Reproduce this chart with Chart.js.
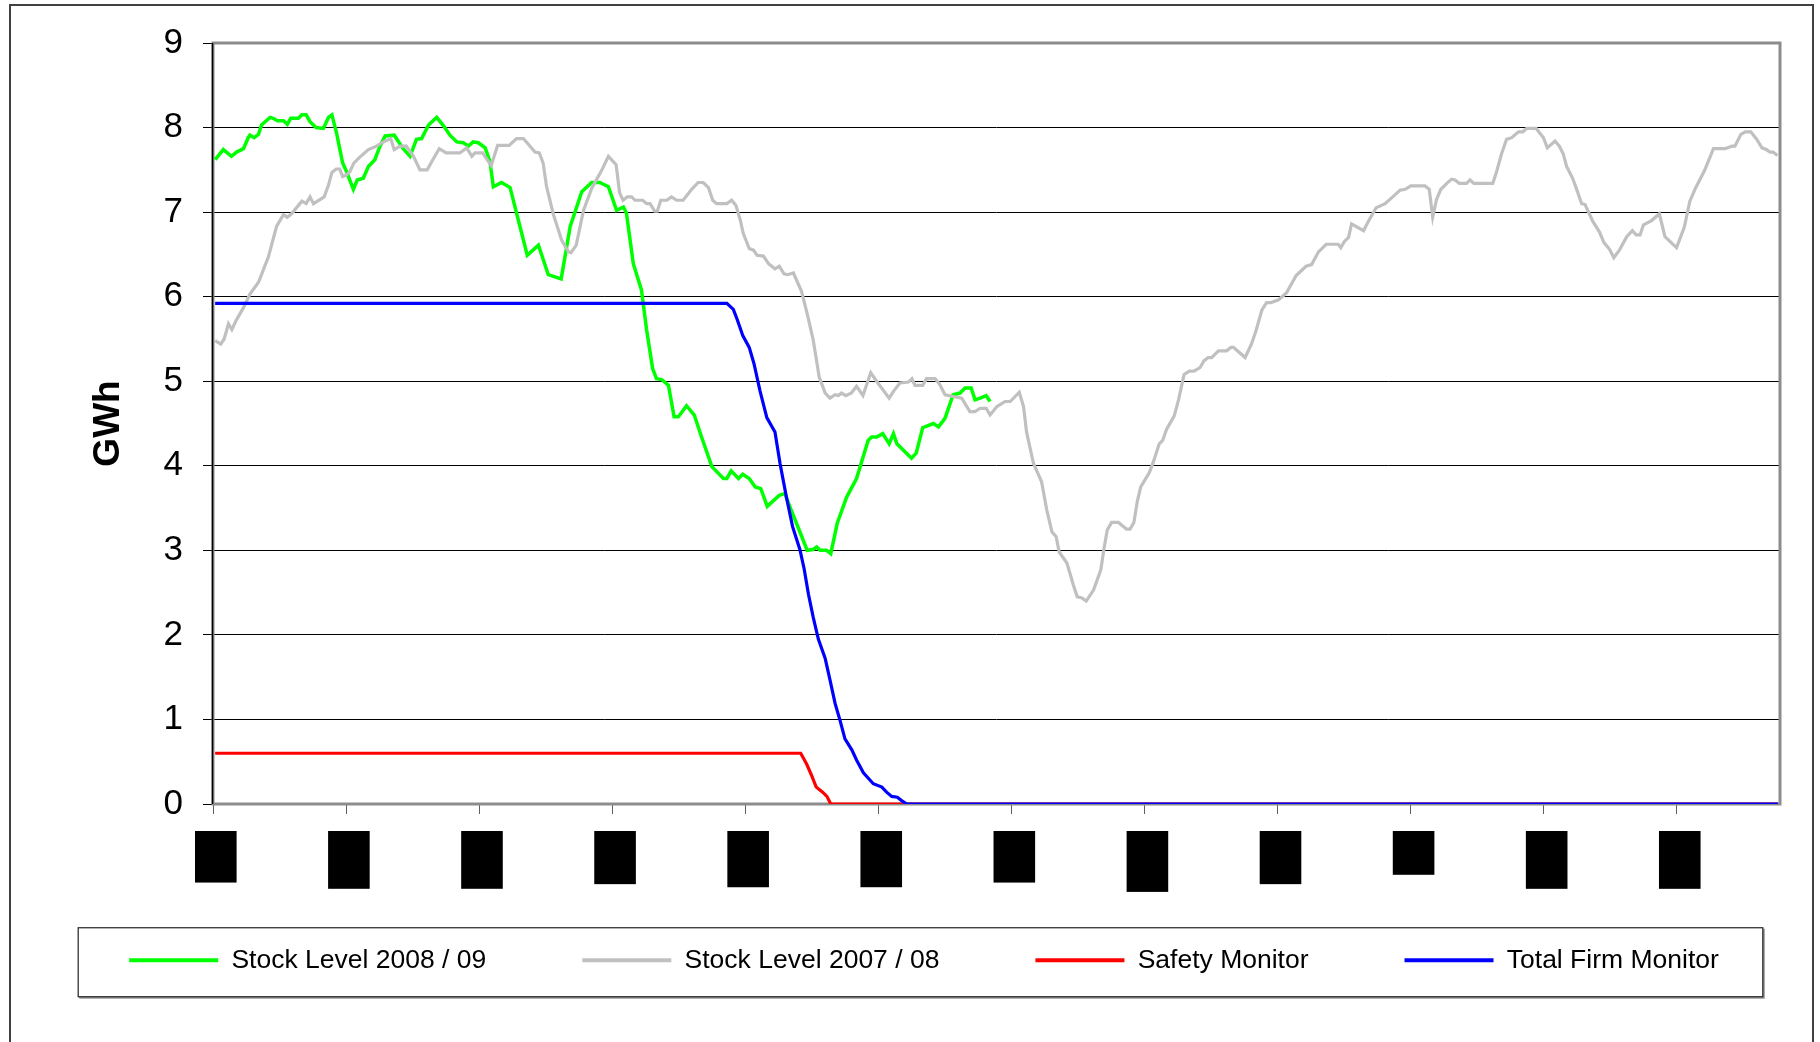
<!DOCTYPE html>
<html>
<head>
<meta charset="utf-8">
<title>Stock Level</title>
<script src="https://cdn.jsdelivr.net/npm/chart.js@4.4.1/dist/chart.umd.min.js"></script>
<style>
  html, body { margin: 0; padding: 0; background: #fff; }
  #wrap { width: 1820px; height: 1042px; }
</style>
</head>
<body>
<div id="wrap"><canvas id="stockChart" width="1820" height="1042"></canvas></div>
<script>
// x axis: day of the gas year, one tick every 31 days
const tickDays = [0, 31, 62, 93, 124, 155, 186, 217, 248, 279, 310, 341];
const monthLabels = ['Oct', 'Nov', 'Dec', 'Jan', 'Feb', 'Mar', 'Apr', 'May', 'Jun', 'Jul', 'Aug', 'Sep'];

// Stock Level 2008 / 09 (GWh)
const stock0809Days = [0.5, 2.4, 4.3, 5.5, 7.1, 8.2, 8.6, 9.6, 10.6, 11.3, 13.3, 14.0, 15.0, 16.4, 17.3, 18.1, 19.9, 20.7, 21.7, 22.6,
  24.0, 25.7, 26.9, 27.7, 28.8, 29.6, 30.2, 31.1, 32.7, 33.6, 35.0, 36.2, 37.7, 38.9, 40.1, 42.2, 44.3, 45.9, 47.4, 48.6,
  50.2, 52.1, 53.7, 55.2, 56.8, 58.3, 59.5, 60.6, 61.8, 63.4, 64.5, 65.3, 67.2, 69.2, 70.3, 71.5, 73.2, 75.8, 78.1, 79.3,
  81.1, 83.2, 85.9, 88.2, 90.1, 92.1, 94.0, 95.6, 96.3, 97.9, 99.8, 101.0, 102.4, 103.3, 104.5, 106.1, 107.4, 108.4, 110.3, 112.1,
  113.8, 116.2, 118.9, 119.7, 120.7, 122.4, 123.4, 124.9, 126.3, 127.6, 129.1, 131.9, 133.2, 134.8, 136.7, 138.4, 139.8, 140.6, 141.4, 142.9,
  143.9, 145.4, 147.6, 149.9, 152.6, 153.4, 154.6, 156.0, 157.5, 158.5, 159.3, 162.7, 163.8, 165.3, 167.8, 169.0, 170.5, 172.4, 174.0, 175.2,
  176.6, 177.5, 178.7, 180.1, 181.0];
const stock0809Values = [7.62, 7.74, 7.66, 7.71, 7.75, 7.88, 7.91, 7.88, 7.92, 8.03, 8.12, 8.11, 8.08, 8.08, 8.04, 8.11, 8.11, 8.15, 8.15, 8.07,
  8.00, 7.99, 8.12, 8.15, 7.93, 7.73, 7.58, 7.48, 7.27, 7.38, 7.40, 7.54, 7.62, 7.78, 7.90, 7.91, 7.75, 7.66, 7.86, 7.87,
  8.03, 8.12, 8.02, 7.91, 7.83, 7.82, 7.78, 7.83, 7.82, 7.76, 7.60, 7.30, 7.35, 7.29, 7.07, 6.83, 6.49, 6.61, 6.26, 6.24,
  6.21, 6.83, 7.24, 7.35, 7.35, 7.30, 7.02, 7.06, 6.99, 6.39, 6.08, 5.61, 5.15, 5.03, 5.02, 4.95, 4.58, 4.58, 4.71, 4.60,
  4.34, 3.99, 3.85, 3.85, 3.94, 3.85, 3.90, 3.85, 3.75, 3.73, 3.52, 3.65, 3.67, 3.46, 3.22, 3.00, 3.01, 3.04, 3.00, 3.00,
  2.96, 3.32, 3.63, 3.85, 4.30, 4.34, 4.34, 4.38, 4.26, 4.38, 4.26, 4.09, 4.15, 4.45, 4.50, 4.46, 4.56, 4.84, 4.86, 4.92,
  4.92, 4.78, 4.80, 4.83, 4.76];

// Stock Level 2007 / 08 (GWh)
const stock0708Days = [0.5, 1.8, 2.6, 3.6, 4.4, 5.4, 7.1, 8.6, 10.6, 12.9, 14.8, 16.4, 17.3, 18.3, 20.7, 21.7, 22.6, 23.4, 25.9, 26.9,
  27.7, 28.7, 29.5, 30.2, 31.1, 31.9, 32.8, 34.2, 36.2, 38.1, 39.3, 41.4, 42.2, 43.6, 45.0, 46.7, 48.2, 49.9, 51.2, 52.7,
  54.3, 57.5, 59.1, 60.3, 61.0, 62.8, 64.8, 66.3, 69.0, 70.7, 72.3, 75.0, 76.0, 76.9, 77.7, 79.3, 81.2, 82.8, 83.4, 84.6,
  86.3, 88.2, 90.6, 92.1, 93.9, 94.7, 95.5, 96.5, 97.5, 98.3, 100.1, 101.0, 101.8, 102.9, 103.5, 104.3, 105.7, 106.8, 108.0, 109.5,
  111.5, 113.0, 114.2, 115.4, 116.4, 117.3, 119.7, 120.8, 121.8, 122.8, 123.5, 124.9, 125.9, 126.7, 128.2, 129.4, 130.9, 131.9, 133.0, 133.8,
  135.2, 137.1, 138.4, 139.8, 141.2, 142.6, 143.7, 144.9, 145.7, 146.4, 147.4, 148.7, 149.9, 151.4, 153.2, 155.0, 157.5, 158.5, 160.0, 162.0,
  162.8, 163.5, 165.3, 166.2, 168.2, 169.3, 170.5, 172.4, 174.4, 176.3, 177.5, 178.7, 180.1, 181.0, 182.6, 184.5, 185.7, 187.8, 188.8, 189.5,
  191.1, 193.0, 194.2, 195.4, 196.4, 197.1, 198.9, 200.4, 201.3, 202.3, 203.4, 205.1, 206.8, 207.5, 208.3, 209.3, 210.9, 212.8, 213.6, 214.5,
  215.3, 216.1, 218.1, 219.0, 220.4, 221.2, 222.1, 223.9, 224.9, 226.2, 227.4, 228.5, 229.9, 230.8, 231.8, 232.6, 234.2, 236.1, 237.1, 237.7,
  240.4, 241.9, 242.9, 244.3, 245.4, 246.4, 248.1, 249.3, 250.1, 252.3, 254.6, 255.9, 257.5, 259.3, 261.4, 262.1, 262.7, 263.5, 264.5, 265.2,
  268.0, 269.1, 270.9, 273.0, 274.8, 276.5, 277.7, 279.0, 282.3, 283.3, 284.1, 285.0, 286.0, 287.4, 288.5, 289.3, 290.3, 292.0, 292.8, 293.7,
  298.1, 299.0, 300.2, 301.3, 302.5, 304.1, 305.1, 306.0, 308.2, 309.9, 310.8, 312.6, 313.6, 314.5, 315.3, 316.7, 317.7, 318.8, 319.6, 321.4,
  322.9, 324.0, 325.3, 326.3, 327.7, 329.3, 330.6, 331.5, 332.4, 333.2, 335.1, 336.9, 338.2, 340.9, 342.7, 344.0, 345.2, 347.5, 349.5, 352.2,
  353.8, 354.5, 355.9, 356.9, 358.2, 359.6, 360.8, 361.8, 362.7, 363.4, 364.4];
const stock0708Values = [5.48, 5.44, 5.50, 5.68, 5.61, 5.72, 5.87, 6.03, 6.17, 6.47, 6.83, 6.97, 6.94, 6.98, 7.13, 7.10, 7.18, 7.10, 7.18, 7.32,
  7.47, 7.51, 7.51, 7.42, 7.44, 7.48, 7.58, 7.65, 7.74, 7.78, 7.82, 7.87, 7.74, 7.78, 7.78, 7.66, 7.50, 7.50, 7.62, 7.75,
  7.70, 7.70, 7.76, 7.66, 7.70, 7.70, 7.55, 7.79, 7.79, 7.87, 7.87, 7.71, 7.70, 7.58, 7.30, 6.97, 6.67, 6.53, 6.52, 6.61,
  7.02, 7.28, 7.50, 7.66, 7.56, 7.23, 7.14, 7.18, 7.18, 7.14, 7.14, 7.10, 7.10, 7.01, 7.01, 7.14, 7.14, 7.18, 7.14, 7.14,
  7.27, 7.35, 7.35, 7.29, 7.14, 7.10, 7.10, 7.14, 7.08, 6.91, 6.75, 6.57, 6.55, 6.49, 6.48, 6.39, 6.33, 6.36, 6.27, 6.26,
  6.28, 6.06, 5.80, 5.49, 5.05, 4.86, 4.80, 4.84, 4.83, 4.86, 4.83, 4.86, 4.94, 4.83, 5.10, 4.97, 4.80, 4.88, 4.98, 4.99,
  5.03, 4.95, 4.95, 5.03, 5.03, 4.96, 4.84, 4.82, 4.80, 4.64, 4.64, 4.68, 4.68, 4.60, 4.70, 4.76, 4.76, 4.87, 4.70, 4.40,
  4.03, 3.81, 3.48, 3.22, 3.16, 2.98, 2.85, 2.59, 2.45, 2.44, 2.40, 2.53, 2.77, 3.01, 3.24, 3.33, 3.33, 3.25, 3.25, 3.33,
  3.58, 3.75, 3.92, 4.04, 4.26, 4.30, 4.43, 4.59, 4.78, 5.08, 5.12, 5.12, 5.16, 5.24, 5.28, 5.28, 5.36, 5.36, 5.40, 5.40,
  5.28, 5.44, 5.59, 5.84, 5.93, 5.93, 5.96, 6.01, 6.05, 6.25, 6.36, 6.38, 6.53, 6.62, 6.62, 6.62, 6.58, 6.65, 6.70, 6.86,
  6.78, 6.89, 7.05, 7.10, 7.18, 7.26, 7.27, 7.31, 7.31, 7.27, 6.94, 7.15, 7.27, 7.34, 7.39, 7.38, 7.34, 7.34, 7.38, 7.34,
  7.34, 7.48, 7.70, 7.86, 7.88, 7.95, 7.95, 7.99, 7.99, 7.88, 7.76, 7.84, 7.78, 7.69, 7.54, 7.40, 7.26, 7.10, 7.09, 6.89,
  6.77, 6.64, 6.56, 6.46, 6.56, 6.71, 6.78, 6.73, 6.73, 6.85, 6.90, 6.98, 6.71, 6.58, 6.82, 7.13, 7.27, 7.50, 7.75, 7.75,
  7.78, 7.78, 7.92, 7.95, 7.95, 7.86, 7.76, 7.74, 7.71, 7.71, 7.67];

// Safety Monitor (GWh)
const safetyDays = [0.5, 136.9, 138.3, 139.5, 140.5, 142.0, 143.0, 143.9, 364.5];
const safetyValues = [0.60, 0.60, 0.47, 0.33, 0.20, 0.14, 0.09, 0.00, 0.00];

// Total Firm Monitor (GWh)
const firmDays = [0.5, 119.7, 121.2, 122.1, 123.4, 124.9, 126.0, 127.4, 129.0, 130.9, 132.1, 133.6, 135.0, 136.7, 137.7, 138.7, 139.8,
  141.0, 142.6, 143.7, 144.9, 146.1, 147.2, 148.8, 149.9, 151.5, 153.8, 155.8, 156.9, 158.1, 159.4, 160.4, 161.6, 364.5];
const firmValues = [5.92, 5.92, 5.85, 5.73, 5.54, 5.40, 5.21, 4.89, 4.57, 4.40, 4.02, 3.62, 3.28, 3.01, 2.78, 2.48, 2.21,
  1.95, 1.72, 1.47, 1.19, 0.98, 0.77, 0.64, 0.52, 0.37, 0.24, 0.20, 0.14, 0.09, 0.08, 0.04, 0.00, 0.00];

const FONT = '"Liberation Sans", Arial, sans-serif';
const toPoints = (days, vals) => days.map((d, i) => ({ x: d, y: vals[i] }));

// outer chart border, plot frame and the boxed legend
const frames = {
  id: 'frames',
  afterLayout(chart) {
    // month labels hang below the thin x box; let them draw past it (labels are clipped to the scale box)
    const xs = chart.scales.x;
    xs.bottom = xs.top + 110;
  },
  beforeDraw(chart) {
    const ctx = chart.ctx;
    ctx.save();
    ctx.fillStyle = '#fff';
    ctx.fillRect(0, 0, chart.width, chart.height);
    ctx.strokeStyle = '#404040';
    ctx.lineWidth = 2;
    ctx.beginPath();
    ctx.moveTo(10, chart.height + 5);
    ctx.lineTo(10, 5);
    ctx.lineTo(1813, 5);
    ctx.lineTo(1813, chart.height + 5);
    ctx.stroke();
    ctx.restore();
  },
  beforeDatasetsDraw(chart) {
    const { ctx, chartArea: a } = chart;
    ctx.save();
    ctx.strokeStyle = '#8c8c8c';
    ctx.lineWidth = 3;
    ctx.strokeRect(a.left, a.top, a.right - a.left, a.bottom - a.top);
    ctx.strokeStyle = '#000';
    ctx.lineWidth = 1.5;
    ctx.beginPath();
    ctx.moveTo(a.left - 0.5, a.top);
    ctx.lineTo(a.left - 0.5, a.bottom);
    ctx.stroke();
    ctx.restore();
  },
  afterDraw(chart) {
    const hb = chart.legend.legendHitBoxes;
    if (!hb || !hb.length) return;
    const first = hb[0], last = hb[hb.length - 1];
    const cy = first.top + first.height / 2;
    const x0 = first.left - 51, x1 = last.left + last.width + 44;
    const y0 = cy - 32.5, y1 = cy + 36.5;
    const ctx = chart.ctx;
    ctx.save();
    ctx.strokeStyle = '#9a9a9a';
    ctx.lineWidth = 2;
    ctx.beginPath();
    ctx.moveTo(x0 + 1, y1 + 1);
    ctx.lineTo(x1 + 1, y1 + 1);
    ctx.lineTo(x1 + 1, y0 + 1);
    ctx.stroke();
    ctx.strokeStyle = '#222';
    ctx.lineWidth = 1.2;
    ctx.strokeRect(x0, y0, x1 - x0, y1 - y0);
    ctx.restore();
  }
};

const lineSet = (label, data, color, order, width) => ({
  label, data, order,
  borderColor: color, backgroundColor: color,
  borderWidth: width, pointRadius: 0, tension: 0, fill: false
});

new Chart(document.getElementById('stockChart'), {
  type: 'line',
  data: {
    datasets: [
      lineSet('Stock Level 2008 / 09', toPoints(stock0809Days, stock0809Values), '#00ff00', 3, 3.5),
      lineSet('Stock Level 2007 / 08', toPoints(stock0708Days, stock0708Values), '#c0c0c0', 2, 3.2),
      lineSet('Safety Monitor', toPoints(safetyDays, safetyValues), '#ff0000', 1, 3.2),
      lineSet('Total Firm Monitor', toPoints(firmDays, firmValues), '#0000ff', 0, 3.2)
    ]
  },
  options: {
    responsive: false,
    animation: false,
    devicePixelRatio: 1,
    events: [],
    layout: { padding: { left: 28, top: 43, right: 0, bottom: 58.5 } },
    plugins: {
      tooltip: { enabled: false },
      legend: {
        position: 'bottom',
        labels: {
          color: '#000',
          font: { size: 26.5, family: FONT },
          boxWidth: 89,
          boxHeight: 4,
          padding: 96,
          sort: (a, b) => a.datasetIndex - b.datasetIndex,
          generateLabels(chart) {
            const items = Chart.defaults.plugins.legend.labels.generateLabels(chart);
            items.forEach(it => { it.fillStyle = it.strokeStyle; it.lineWidth = 0; });
            return items;
          }
        }
      }
    },
    scales: {
      x: {
        type: 'linear',
        min: 0,
        max: 365,
        afterBuildTicks: s => { s.ticks = tickDays.map(v => ({ value: v })); },
        afterFit: s => { s.height = 47; },
        ticks: {
          autoSkip: false,
          minRotation: 90,
          maxRotation: 90,
          padding: 21,
          labelOffset: -14,
          color: '#000',
          font: { size: 28, family: FONT },
          showLabelBackdrop: true,
          backdropColor: '#000',
          backdropPadding: 4,
          callback: (v, i) => monthLabels[i]
        },
        grid: { drawOnChartArea: false, drawTicks: true, tickLength: 10, color: '#606060', lineWidth: 1 },
        border: { display: false }
      },
      y: {
        min: 0,
        max: 9,
        afterFit: s => { s.width = 185; },
        ticks: { stepSize: 1, color: '#000', font: { size: 35, family: FONT }, padding: 20 },
        grid: { color: '#000', lineWidth: 1, drawTicks: true, tickLength: 10 },
        border: { display: false },
        title: {
          display: true,
          text: 'GWh',
          color: '#000',
          font: { size: 37, weight: 'bold', family: FONT },
          padding: { top: 59, bottom: 0 }
        }
      },
      y2: {
        position: 'right',
        display: true,
        afterFit: s => { s.width = 40; },
        ticks: { display: false },
        grid: { display: false },
        border: { display: false }
      }
    }
  },
  plugins: [frames]
});
</script>
</body>
</html>
